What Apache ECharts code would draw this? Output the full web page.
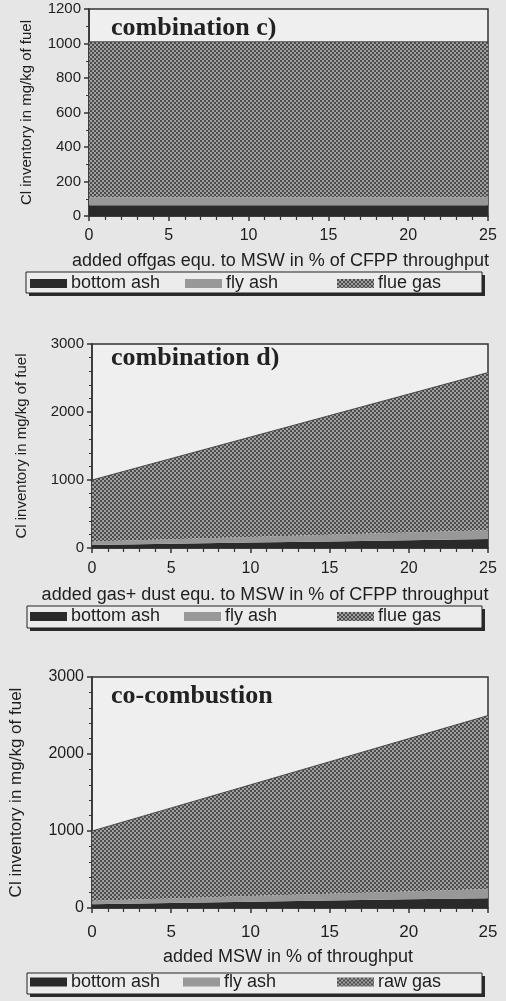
<!DOCTYPE html>
<html>
<head>
<meta charset="utf-8">
<script src="https://cdn.jsdelivr.net/npm/echarts@6/dist/echarts.min.js"></script>
<style>
html,body{margin:0;padding:0;background:#e6e6e6;}
#c{width:506px;height:1001px;}
</style>
</head>
<body>
<div id="c"></div>
<script>
// ---- data ----
var xValues = [0, 5, 10, 15, 20, 25];

var titles = ['combination c)', 'combination d)', 'co-combustion'];
var xNames = ['added offgas equ. to MSW in % of CFPP throughput',
              'added gas+ dust equ. to MSW in % of CFPP throughput',
              'added MSW in % of throughput'];
var yName = 'Cl inventory in mg/kg of fuel';
var seriesNames1 = ['bottom ash', 'fly ash', 'flue gas'];
var seriesNames2 = ['bottom ash', 'fly ash', 'flue gas'];
var seriesNames3 = ['bottom ash', 'fly ash', 'raw gas'];

// combination c)
var c_bottom = [62, 62, 62, 62, 62, 62];
var c_fly    = [46, 46, 46, 46, 46, 46];
var c_gas    = [902, 902, 902, 902, 902, 902];
// combination d)
var d_bottom = [45, 62, 80, 97, 115, 132];
var d_fly    = [52, 68, 82, 98, 112, 128];
var d_gas    = [903, 1186, 1470, 1753, 2037, 2320];
// co-combustion
var e_bottom = [50, 65, 80, 97, 113, 128];
var e_fly    = [45, 60, 75, 88, 102, 118];
var e_gas    = [905, 1175, 1445, 1715, 1985, 2254];

var yMax = [1200, 3000, 3000];
var yInterval = [200, 1000, 1000];

// ---- pattern ----
function makePattern(a, b) {
  var cv = document.createElement('canvas');
  cv.width = 4; cv.height = 4;
  var ctx = cv.getContext('2d');
  ctx.fillStyle = b; ctx.fillRect(0, 0, 4, 4);
  ctx.fillStyle = a;
  ctx.fillRect(0, 0, 2, 2); ctx.fillRect(2, 2, 2, 2);
  return {image: cv, repeat: 'repeat'};
}
var gasPattern = makePattern('#4c4c4c', '#a0a0a0');
var colBottom = '#2a2a2a';
var colFly = '#989898';
var fills = [colBottom, colFly, gasPattern];

// value first so that the stack is applied on the y value
function zip(v) { return xValues.map(function (x, i) { return [v[i], x]; }); }

var grids = [
  {left: 89, right: 18, top: 9, height: 207},
  {left: 92, right: 18, top: 344, height: 204},
  {left: 92, right: 18, top: 677, height: 231}
];
var yFont = [15, 15, 17];
var yGap = [55, 63, 67];
var xGap = [36, 38, 40];
var xLabelMargin = [12, 13, 16];
var xNamePad = [[0, 16, 0, 0], [0, 50, 0, 0], [0, 4, 0, 0]];
var titleTop = [10, 340, 678];
var legendBox = [[26, 272, 456, 21], [27, 606, 455, 22], [27, 973, 455, 21]];
var legendIconX = [[30, 185, 337], [30, 184, 337], [30, 183, 337]];
var legendCenterY = [284.5, 617.5, 983];

var textCol = '#1e1e1e';
var fontSans = 'Liberation Sans, Arial, sans-serif';
var allNames = [seriesNames1, seriesNames2, seriesNames3];
var suffix = ['', ' ', '  '];

var option = {
  backgroundColor: '#e6e6e6',
  animation: false,
  title: titles.map(function (t, i) {
    return {text: t, left: 106, top: titleTop[i],
      textStyle: {fontFamily: 'Liberation Serif, Times New Roman, serif', fontWeight: 'bold', fontSize: 26, color: '#222'}};
  }),
  grid: grids.map(function (g) {
    return Object.assign({show: true, borderColor: '#333', borderWidth: 1.5, backgroundColor: '#efefef'}, g);
  }),
  xAxis: [0, 1, 2].map(function (i) {
    return {
      type: 'value', gridIndex: i, min: 0, max: 25, interval: 5,
      name: xNames[i], nameLocation: 'middle', nameGap: xGap[i],
      nameTextStyle: {fontFamily: fontSans, fontSize: 18, color: textCol, padding: xNamePad[i]},
      axisLine: {show: true, lineStyle: {color: '#333', width: 1.5}},
      axisTick: {show: true, length: 5, lineStyle: {color: '#333', width: 1.5}},
      minorTick: {show: true, splitNumber: 5, length: 4, lineStyle: {color: '#333', width: 1.2}},
      axisLabel: {fontFamily: fontSans, fontSize: i === 2 ? 17 : 16, color: textCol, margin: xLabelMargin[i]},
      splitLine: {show: false}
    };
  }),
  yAxis: [0, 1, 2].map(function (i) {
    return {
      type: 'value', gridIndex: i, min: 0, max: yMax[i], interval: yInterval[i],
      name: yName, nameLocation: 'middle', nameGap: yGap[i],
      nameTextStyle: {fontFamily: fontSans, fontSize: yFont[i], color: textCol},
      axisLine: {show: true, lineStyle: {color: '#333', width: 1.5}},
      axisTick: {show: true, length: 5, lineStyle: {color: '#333', width: 1.5}},
      minorTick: {show: true, splitNumber: i === 0 ? 2 : 5, length: 3, lineStyle: {color: '#333', width: 1}},
      axisLabel: {fontFamily: fontSans, fontSize: i === 2 ? 16 : 15, color: textCol, margin: 8,
        formatter: function (v) { return String(v); }},
      splitLine: {show: false}
    };
  }),
  legend: [],
  graphic: [],
  series: []
};

for (var i = 0; i < 3; i++) {
  var b = legendBox[i];
  option.graphic.push({type: 'rect', z: 1, shape: {x: b[0] + 3, y: b[1] + 3, width: b[2], height: b[3]},
    style: {fill: '#2a2a2a'}});
  option.graphic.push({type: 'rect', z: 2, shape: {x: b[0], y: b[1], width: b[2], height: b[3]},
    style: {fill: '#ececec', stroke: '#222', lineWidth: 1}});
  for (var k = 0; k < 3; k++) {
    var nm = allNames[i][k] + suffix[i];
    option.legend.push({
      left: legendIconX[i][k], top: legendCenterY[i] - 10, padding: 0,
      itemWidth: 37, itemHeight: 9, itemGap: 0, icon: 'rect', selectedMode: false, z: 10,
      textStyle: {fontFamily: fontSans, fontSize: 18, color: textCol, padding: [0, 0, 0, -1]},
      data: [{name: nm, itemStyle: {color: fills[k]}}]
    });
  }
}

var allData = [[c_bottom, c_fly, c_gas], [d_bottom, d_fly, d_gas], [e_bottom, e_fly, e_gas]];
for (var i2 = 0; i2 < 3; i2++) {
  for (var k2 = 0; k2 < 3; k2++) {
    option.series.push({
      type: 'line', name: allNames[i2][k2] + suffix[i2], xAxisIndex: i2, yAxisIndex: i2,
      stack: 'g' + i2, data: zip(allData[i2][k2]), encode: {x: 1, y: 0},
      showSymbol: false, symbol: 'none',
      lineStyle: {width: k2 === 2 ? 0.8 : 0, color: '#333'},
      itemStyle: {color: fills[k2]},
      areaStyle: {color: fills[k2], opacity: 1},
      z: 2
    });
  }
}

var chart = echarts.init(document.getElementById('c'), null, {renderer: 'canvas'});
chart.setOption(option);
</script>
</body>
</html>
